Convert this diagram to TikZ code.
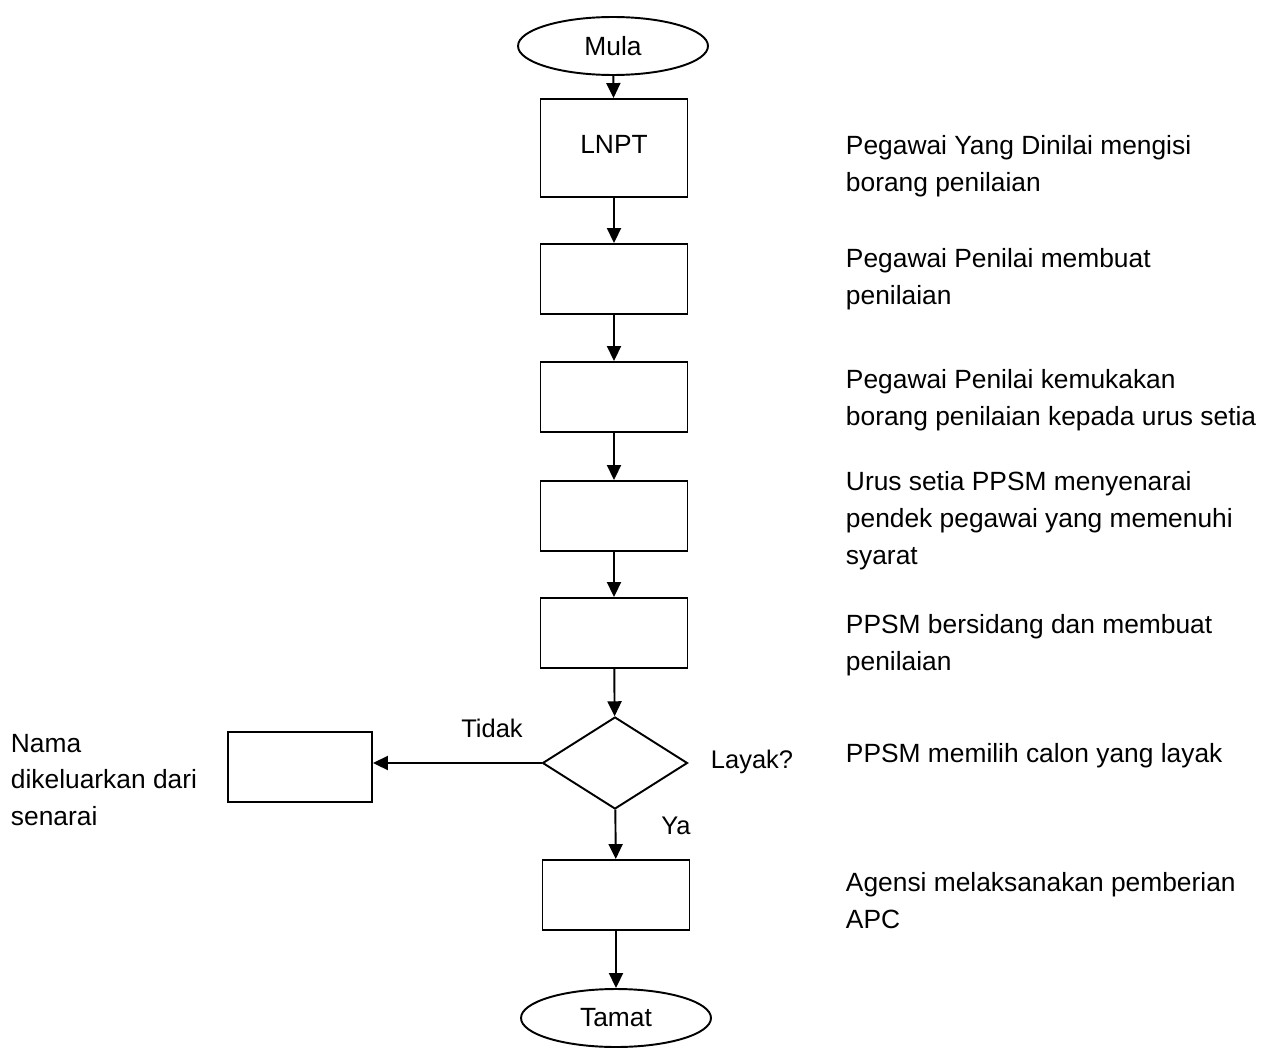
\documentclass[tikz,border=0pt]{standalone}
\usepackage{fontspec}
\setmainfont{Liberation Sans}
\usepackage{tikz}
\usetikzlibrary{calc,positioning,arrows.meta,shapes}

\begin{document}
\begin{tikzpicture}[x=0.02cm, y=-0.02cm, line width=1.1pt]
\tikzstyle{term}=[ellipse, draw, minimum width=3.8cm, minimum height=1.16cm,
                        inner sep=0pt, font=\fontsize{15}{18}\selectfont]
\tikzstyle{proc}=[rectangle, draw, minimum width=2.94cm, minimum height=1.4cm,
                        inner sep=0pt, font=\fontsize{15}{18}\selectfont]
\tikzstyle{dec}=[diamond, draw, minimum width=2.9cm, minimum height=1.84cm, inner sep=0pt]
\tikzstyle{note}=[anchor=west, align=left, inner sep=0pt, font=\fontsize{15}{21}\selectfont]
\tikzstyle{lbl}=[inner sep=0pt, font=\fontsize{14.5}{17}\selectfont]
\tikzstyle{arr}=[-{Triangle[length=0.3cm, width=0.28cm]}]
\useasboundingbox (0,0) rectangle (1261,1061);
\node[term] (mula) at (613,46) {Mula};
\node[proc, minimum height=1.96cm] (lnpt) at (614,148) {\raisebox{4pt}{LNPT}};
\node[proc] (b2) at (614,279) {};
\node[proc] (b3) at (614,397) {};
\node[proc] (b4) at (614,516) {};
\node[proc] (b5) at (614,633) {};
\node[dec] (layak) at (615,763) {};
\node[proc, minimum width=2.88cm] (buang) at (300,767) {};
\node[proc] (b6) at (616,895) {};
\node[term] (tamat) at (616,1018) {Tamat};
%labels
\node[lbl] (tidak) at (492,728) {Tidak};
\node[lbl] (soal) at (752,762) {Layak?};
\node[lbl] (ya) at (676,826) {Ya};
%notes
\node[note] (n1) at (845,166) {Pegawai Yang Dinilai mengisi\\borang penilaian};
\node[note] (n2) at (845,279) {Pegawai Penilai membuat\\penilaian};
\node[note] (n3) at (845,400) {Pegawai Penilai kemukakan\\borang penilaian kepada urus setia};
\node[note] (n4) at (845,521) {Urus setia PPSM menyenarai\\pendek pegawai yang memenuhi\\syarat};
\node[note] (n5) at (845,645) {PPSM bersidang dan membuat\\penilaian};
\node[note] (n6) at (845,756) {PPSM memilih calon yang layak};
\node[note] (n7) at (845,901) {Agensi melaksanakan pemberian\\APC};
\node[note] (n8) at (10,780) {Nama\\dikeluarkan dari\\senarai};
\foreach \i/\j in {mula/lnpt,lnpt/b2,b2/b3,b3/b4,b4/b5,b5/layak,layak/b6,b6/tamat}{\draw[arr] (\i) -- (\j);}
\draw[arr] (layak.west) -- (layak.west -| buang.east);
\end{tikzpicture}
\end{document}
